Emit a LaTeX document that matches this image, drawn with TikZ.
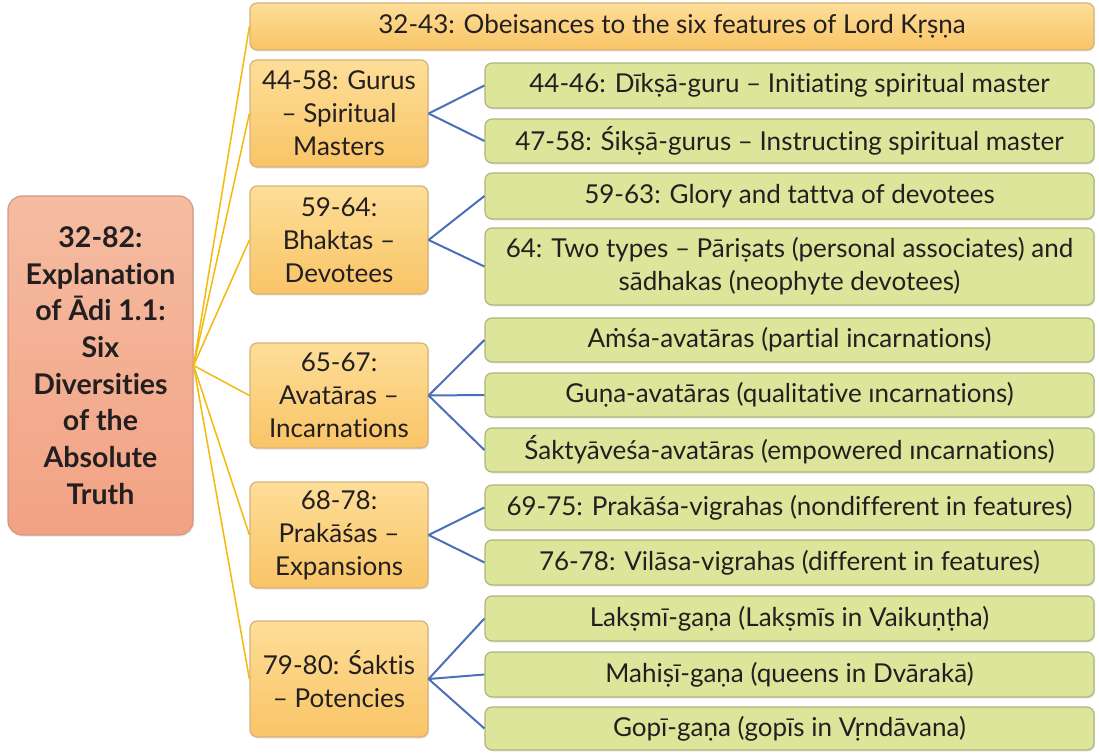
\documentclass[tikz,border=0pt]{standalone}
\usepackage{fontspec}
\setmainfont{Lato}[Ligatures={NoCommon,NoContextual}]
\usetikzlibrary{shadows}
\definecolor{rootTop}{HTML}{F5BCA2}
\definecolor{rootBot}{HTML}{F2A283}
\definecolor{rootLine}{HTML}{D29A84}
\definecolor{orTop}{HTML}{FDDE98}
\definecolor{orBot}{HTML}{F9C466}
\definecolor{orLine}{HTML}{D6B27A}
\definecolor{grFill}{HTML}{DDE59B}
\definecolor{grLine}{HTML}{AEB57A}
\definecolor{linkY}{HTML}{F5B80C}
\definecolor{linkB}{HTML}{4A70B8}
\definecolor{ink}{HTML}{231F20}
\begin{document}
\begin{tikzpicture}[x=1pt,y=-1pt,
  box/.style={rounded corners=7pt, line width=1.2pt, align=center, inner sep=2pt,
    text=ink, font=\fontsize{26}{33}\selectfont,
    drop shadow={shadow xshift=1.2pt, shadow yshift=-1.5pt, opacity=0.18}},
  rootbox/.style={box, rounded corners=14pt, draw=rootLine, top color=rootTop, bottom color=rootBot,
    font=\bfseries\fontsize{28.5}{36.7}\selectfont},
  orbox/.style={box, draw=orLine, top color=orTop, bottom color=orBot, minimum width=178pt},
  grbox/.style={box, draw=grLine, fill=grFill, minimum width=609pt},
  ylink/.style={draw=linkY, line width=1.5pt},
  blink/.style={draw=linkB, line width=2pt}]
\useasboundingbox (0,0) rectangle (1099,752);

% root
\node[rootbox, minimum width=185pt, minimum height=339pt] (root) at (100.5,365.5)
  {32-82:\\Explanation\\of Ādi 1.1:\\Six\\Diversities\\of the\\Absolute\\Truth};

% first level
\node[box, draw=orLine, top color=orTop, bottom color=orBot, minimum width=844pt, minimum height=47pt]
  (top) at (672,26.5) {32-43: Obeisances to the six features of Lord Kṛṣṇa};
\node[orbox, minimum height=107pt] (gurus) at (339,113.5) {44-58: Gurus\\– Spiritual\\Masters};
\node[orbox, minimum height=108pt] (bhak) at (339,240) {59-64:\\Bhaktas –\\Devotees};
\node[orbox, minimum height=105pt] (avat) at (339,395.5) {65-67:\\Avatāras –\\Incarnations};
\node[orbox, minimum height=106pt] (prak) at (339,535) {68-78:\\Prakāśas –\\Expansions};
\node[orbox, minimum height=116pt] (sakt) at (339,679) {79-80: Śaktis\\– Potencies};

% second level
\node[grbox, minimum height=45pt] (g1) at (789.5,85.5) {44-46: Dīkṣā-guru – Initiating spiritual master};
\node[grbox, minimum height=44pt] (g2) at (789.5,141) {47-58: Śikṣā-gurus – Instructing spiritual master};
\node[grbox, minimum height=46pt] (g3) at (789.5,196) {59-63: Glory and tattva of devotees};
\node[grbox, minimum height=77pt] (g4) at (789.5,266.5) {64: Two types – Pāriṣats (personal associates) and\\sādhakas (neophyte devotees)};
\node[grbox, minimum height=44pt] (g5) at (789.5,340) {Aṁśa-avatāras (partial incarnations)};
\node[grbox, minimum height=44pt] (g6) at (789.5,395) {Guṇa-avatāras (qualitative ıncarnations)};
\node[grbox, minimum height=44pt] (g7) at (789.5,450) {Śaktyāveśa-avatāras (empowered ıncarnations)};
\node[grbox, minimum height=45pt] (g8) at (789.5,507.5) {69-75: Prakāśa-vigrahas (nondifferent in features)};
\node[grbox, minimum height=45pt] (g9) at (789.5,562.5) {76-78: Vilāsa-vigrahas (different in features)};
\node[grbox, minimum height=45pt] (g10) at (789.5,618.5) {Lakṣmī-gaṇa (Lakṣmīs in Vaikuṇṭha)};
\node[grbox, minimum height=45pt] (g11) at (789.5,674.5) {Mahiṣī-gaṇa (queens in Dvārakā)};
\node[grbox, minimum height=43pt] (g12) at (789.5,728.5) {Gopī-gaṇa (gopīs in Vṛndāvana)};

% connectors
\foreach \t in {top,gurus,bhak,avat,prak,sakt}
  \draw[ylink] (root.east) -- (\t.west);
\foreach \p/\c in {gurus/g1,gurus/g2,bhak/g3,bhak/g4,avat/g5,avat/g6,avat/g7,prak/g8,prak/g9,sakt/g10,sakt/g11,sakt/g12}
  \draw[blink] (\p.east) -- (\c.west);
\end{tikzpicture}
\end{document}
